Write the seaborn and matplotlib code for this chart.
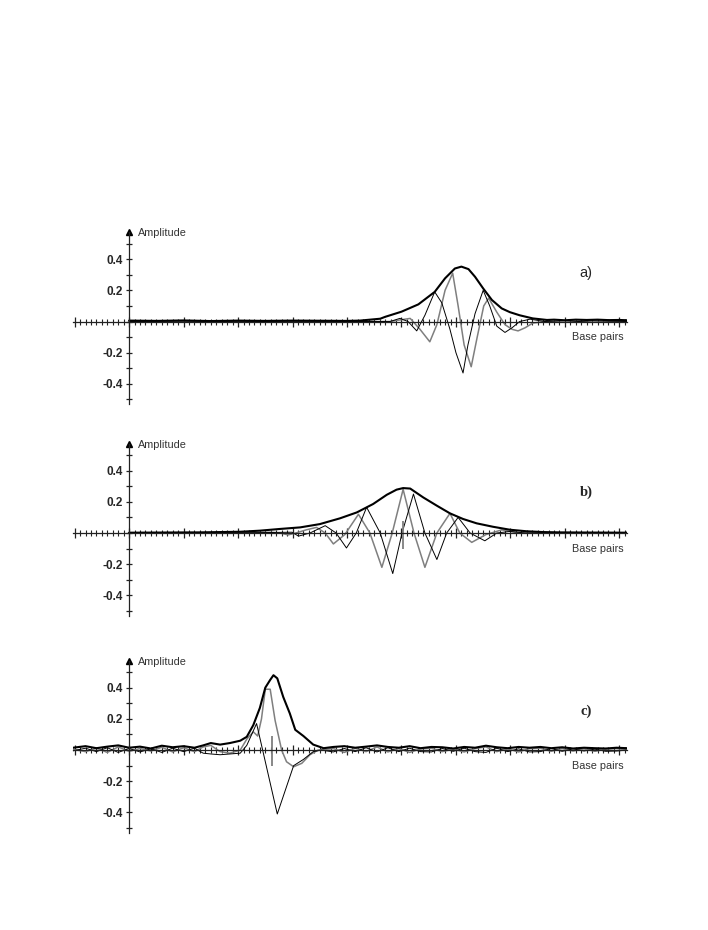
import matplotlib
matplotlib.use("Agg")
import matplotlib.pyplot as plt
import seaborn as sns
from matplotlib.ticker import MultipleLocator, FixedLocator, NullFormatter

sns.set_style("white")
plt.rcParams["font.family"] = ["Liberation Sans", "DejaVu Sans"]

# ---- panel a) ----
a_env_x = [0, 5, 10, 15, 20, 25, 30, 35, 40, 42.4, 46.1, 47.0, 50.0, 53.1, 56.1, 58.0, 59.8,
           61.0, 62.3, 63.5, 65.0, 66.6, 68.4, 69.9, 71.7, 74.1, 76.7, 78, 80, 82, 84, 86, 88, 90, 91.4]
a_env_y = [0.006, 0.004, 0.007, 0.003, 0.006, 0.004, 0.006, 0.005, 0.004, 0.006, 0.018, 0.03, 0.063,
           0.11, 0.19, 0.277, 0.34, 0.352, 0.336, 0.287, 0.212, 0.138, 0.084, 0.06, 0.04, 0.02, 0.01,
           0.012, 0.008, 0.012, 0.01, 0.012, 0.009, 0.01, 0.008]
a_im_x = [0, 10, 20, 30, 40, 47.9, 49.7, 51.6, 53.4, 55.2, 56.5, 58.0, 59.4, 60.4, 61.5, 62.8, 63.9,
          65.1, 66.0, 67.5, 69.0, 70.3, 71.4, 72.7, 74.1, 76.3, 80, 85, 91.4]
a_im_y = [0.0, 0.003, -0.002, 0.003, 0.0, 0.0, 0.01, 0.02, -0.05, -0.13, -0.02, 0.2, 0.31, 0.1, -0.15,
          -0.29, -0.1, 0.1, 0.15, 0.06, -0.02, -0.05, -0.06, -0.04, -0.01, 0.0, 0.006, -0.004, 0.0]
a_re_x = [0, 10, 20, 30, 40, 47.9, 49.7, 51.2, 52.8, 54.3, 56.1, 57.4, 58.9, 60.0, 61.3, 62.2, 63.5,
          65.0, 66.2, 67.5, 69.0, 70.3, 71.7, 73.6, 76.3, 80, 85, 91.4]
a_re_y = [0.0, -0.003, 0.002, -0.002, 0.0, 0.0, 0.02, 0.0, -0.06, 0.04, 0.19, 0.12, -0.05, -0.2, -0.33,
          -0.15, 0.05, 0.2, 0.1, -0.03, -0.07, -0.04, 0.0, 0.015, 0.0, -0.005, 0.005, 0.0]

# ---- panel b) ----
b_env_x = [0, 6, 13.0, 20.4, 24.0, 27.7, 31.4, 35.0, 38.7, 41.8, 44.8, 47.3, 49.1, 50.3, 51.6, 54.0,
           56.5, 58.9, 61.3, 63.8, 66.8, 69.9, 73.0, 76.0, 79.1, 84, 91.4]
b_env_y = [0.002, 0.003, 0.004, 0.008, 0.015, 0.026, 0.036, 0.057, 0.094, 0.132, 0.186, 0.245, 0.278,
           0.288, 0.285, 0.228, 0.175, 0.126, 0.09, 0.062, 0.04, 0.021, 0.011, 0.006, 0.004, 0.003, 0.002]
b_im_x = [0, 10, 18.5, 25.9, 27.7, 29.2, 30.6, 32.5, 34.4, 36.0, 37.5, 39.6, 42.1, 44.2, 46.4, 48.3,
          50.3, 52.3, 54.3, 56.5, 58.9, 60.7, 62.9, 65.5, 68.4, 71.7, 79.1, 91.4]
b_im_y = [0.0, 0.002, 0.0, 0.005, 0.0, -0.012, 0.0, 0.02, 0.036, 0.0, -0.07, -0.01, 0.12, 0.0, -0.22,
          0.0, 0.28, 0.0, -0.22, 0.0, 0.126, 0.0, -0.06, -0.01, 0.02, 0.0, 0.0, 0.0]
b_re_x = [0, 10, 18.5, 29.9, 31.1, 33.2, 36.0, 38.0, 39.9, 41.7, 43.6, 46.1, 48.4, 50.1, 52.2, 54.3,
          56.5, 58.3, 60.4, 62.6, 65.3, 67.5, 69.9, 72.7, 79.1, 91.4]
b_re_y = [0.0, -0.002, 0.0, 0.005, -0.02, 0.0, 0.047, 0.0, -0.096, 0.0, 0.165, 0.0, -0.26, 0.0, 0.25,
          0.0, -0.17, 0.0, 0.1, 0.0, -0.05, 0.0, 0.01, 0.0, 0.0, 0.0]

# ---- panel c) ----
c_left_x = [-10.3, -8, -6, -4, -2, 0, 2, 4, 6, 8, 10, 12, 13.6, 15.0]
c_right_x = [37.5, 39.5, 41.5, 43.5, 45.5, 47.5, 49.5, 51.5, 53.5, 55.5, 57.5, 59.5, 61.5, 63.5,
             65.5, 67.5, 69.5, 71.5, 73.5, 75.5, 77.5, 79.5, 81.5, 83.5, 85.5, 87.5, 89.5, 91.4]
c_env_left = [0.015, 0.025, 0.012, 0.022, 0.03, 0.015, 0.022, 0.01, 0.028, 0.018, 0.025, 0.015, 0.03, 0.045]
c_env_peak_x = [16.7, 18.5, 20.4, 21.6, 22.8, 24.0, 25.0, 25.9, 26.5, 27.2, 28.3, 29.5, 30.5, 32.0, 33.8, 35.7]
c_env_peak_y = [0.035, 0.045, 0.06, 0.085, 0.16, 0.27, 0.40, 0.45, 0.48, 0.46, 0.34, 0.235, 0.13, 0.09, 0.035, 0.012]
c_env_right = [0.02, 0.025, 0.015, 0.022, 0.03, 0.02, 0.015, 0.025, 0.012, 0.02, 0.018, 0.01, 0.02, 0.015,
               0.028, 0.018, 0.012, 0.02, 0.015, 0.02, 0.012, 0.018, 0.01, 0.015, 0.012, 0.01, 0.015, 0.012]
c_im_left = [0.005, -0.01, 0.012, -0.015, 0.02, -0.008, 0.01, -0.006, 0.018, -0.012, 0.015, -0.01, 0.02, 0.03]
c_im_peak_x = [16.7, 18.5, 20.4, 21.6, 22.8, 23.6, 24.3, 25.0, 25.9, 26.8, 28.0, 28.9, 30.2, 31.7, 33.2, 34.7]
c_im_peak_y = [-0.01, -0.02, 0.0, 0.07, 0.117, 0.09, 0.2, 0.39, 0.39, 0.19, 0.0, -0.075, -0.107, -0.085, -0.03, 0.0]
c_im_right = [0.01, -0.015, 0.012, -0.01, 0.02, -0.012, 0.01, -0.015, 0.008, 0.012, -0.01, 0.006, -0.012, 0.01,
              0.02, -0.01, 0.008, -0.012, 0.01, 0.012, -0.008, 0.01, -0.006, 0.008, -0.008, 0.006, 0.01, 0.0]
c_re_left = [-0.005, 0.012, -0.01, 0.015, -0.015, 0.01, -0.012, 0.008, -0.015, 0.012, -0.01, 0.012, -0.02, -0.025]
c_re_peak_x = [16.7, 18.5, 20.4, 21.6, 23.4, 27.2, 30.2, 32.0, 33.8, 35.3]
c_re_peak_y = [-0.03, -0.025, -0.02, 0.03, 0.17, -0.41, -0.10, -0.06, -0.01, 0.0]
c_re_right = [-0.012, 0.01, -0.01, 0.015, -0.012, 0.015, -0.01, 0.012, -0.01, -0.012, 0.01, -0.008, 0.012, -0.01,
              -0.015, 0.012, -0.01, 0.008, -0.012, -0.01, 0.01, -0.008, 0.008, -0.006, 0.006, -0.008, -0.006, 0.0]

# centre markers (x, y-bottom, y-top)
b_mark = (50.3, -0.10, 0.08)
c_mark = (26.2, -0.10, 0.09)

ytick_vals = [-0.4, -0.2, 0.2, 0.4]
ytick_labels = ["-0.4", "-0.2", "0.2", "0.4"]
tags = ["a)", "b)", "c)"]

panels = [
    (a_env_x, a_env_y, a_re_x, a_re_y, a_im_x, a_im_y, None),
    (b_env_x, b_env_y, b_re_x, b_re_y, b_im_x, b_im_y, b_mark),
    (c_left_x + c_env_peak_x + c_right_x, c_env_left + c_env_peak_y + c_env_right,
     c_left_x + c_re_peak_x + c_right_x, c_re_left + c_re_peak_y + c_re_right,
     c_left_x + c_im_peak_x + c_right_x, c_im_left + c_im_peak_y + c_im_right, c_mark),
]

XMIN, XMAX = -10.3, 91.4
YMIN, YMAX = -0.53, 0.572
bottoms = [0.5654, 0.3380, 0.1046]
tag_y = [0.31, 0.26, 0.25]
tag_font = [["Liberation Sans", "DejaVu Sans"], ["Liberation Serif", "DejaVu Serif"],
            ["Liberation Serif", "DejaVu Serif"]]
tag_weight = ["normal", "bold", "bold"]

fig = plt.figure(figsize=(7.08, 9.3), dpi=100)

for i, (ex, ey, rx, ry, ix, iy, mark) in enumerate(panels):
    ax = fig.add_axes([0.1031, bottoms[i], 0.7825, 0.1848])
    sns.lineplot(x=ix, y=iy, ax=ax, color="#7f7f7f", lw=1.1, sort=False, estimator=None)
    sns.lineplot(x=rx, y=ry, ax=ax, color="black", lw=0.7, sort=False, estimator=None)
    sns.lineplot(x=ex, y=ey, ax=ax, color="black", lw=1.5, sort=False, estimator=None)
    if mark is not None:
        ax.vlines(mark[0], mark[1], mark[2], color="#7f7f7f", lw=1.3)

    ax.set_xlim(XMIN, XMAX)
    ax.set_ylim(YMIN, YMAX)
    ax.set_xlabel("")
    ax.set_ylabel("")
    for s in ["top", "right"]:
        ax.spines[s].set_visible(False)
    for s in ["left", "bottom"]:
        ax.spines[s].set_position(("data", 0))
        ax.spines[s].set_color("#222222")
        ax.spines[s].set_linewidth(0.9)
    ax.patch.set_alpha(0)

    ax.xaxis.set_major_locator(MultipleLocator(10))
    ax.xaxis.set_minor_locator(MultipleLocator(1))
    ax.xaxis.set_major_formatter(NullFormatter())
    ax.yaxis.set_major_locator(FixedLocator(ytick_vals))
    ax.set_yticklabels(ytick_labels)
    ax.yaxis.set_minor_locator(MultipleLocator(0.1))
    ax.tick_params(axis="x", which="both", bottom=True, top=False)
    ax.tick_params(axis="y", which="both", left=True, right=False)
    ax.tick_params(axis="x", which="major", direction="inout", length=7, width=0.9, color="#222222")
    ax.tick_params(axis="x", which="minor", direction="inout", length=4.5, width=0.8, color="#222222")
    ax.tick_params(axis="y", which="both", direction="inout", length=4.5, width=0.9, color="#222222",
                   pad=2, labelsize=8.5)
    for lab in ax.get_yticklabels():
        lab.set_fontweight("bold")

    # arrow head on the amplitude axis
    ax.plot(0, 1, marker="^", color="black", ms=5, transform=ax.get_xaxis_transform(), clip_on=False)
    ax.text(1.6, 0.567, "Amplitude", fontsize=7.8, color="#333333", va="center", ha="left")
    ax.text(90.8, -0.10, "Base pairs", fontsize=7.8, color="#333333", va="center", ha="right")
    ax.text(83.9, tag_y[i], tags[i], fontsize=10.5, family=tag_font[i], fontweight=tag_weight[i],
            va="center", ha="center")

fig.savefig("out.png", dpi=100)
